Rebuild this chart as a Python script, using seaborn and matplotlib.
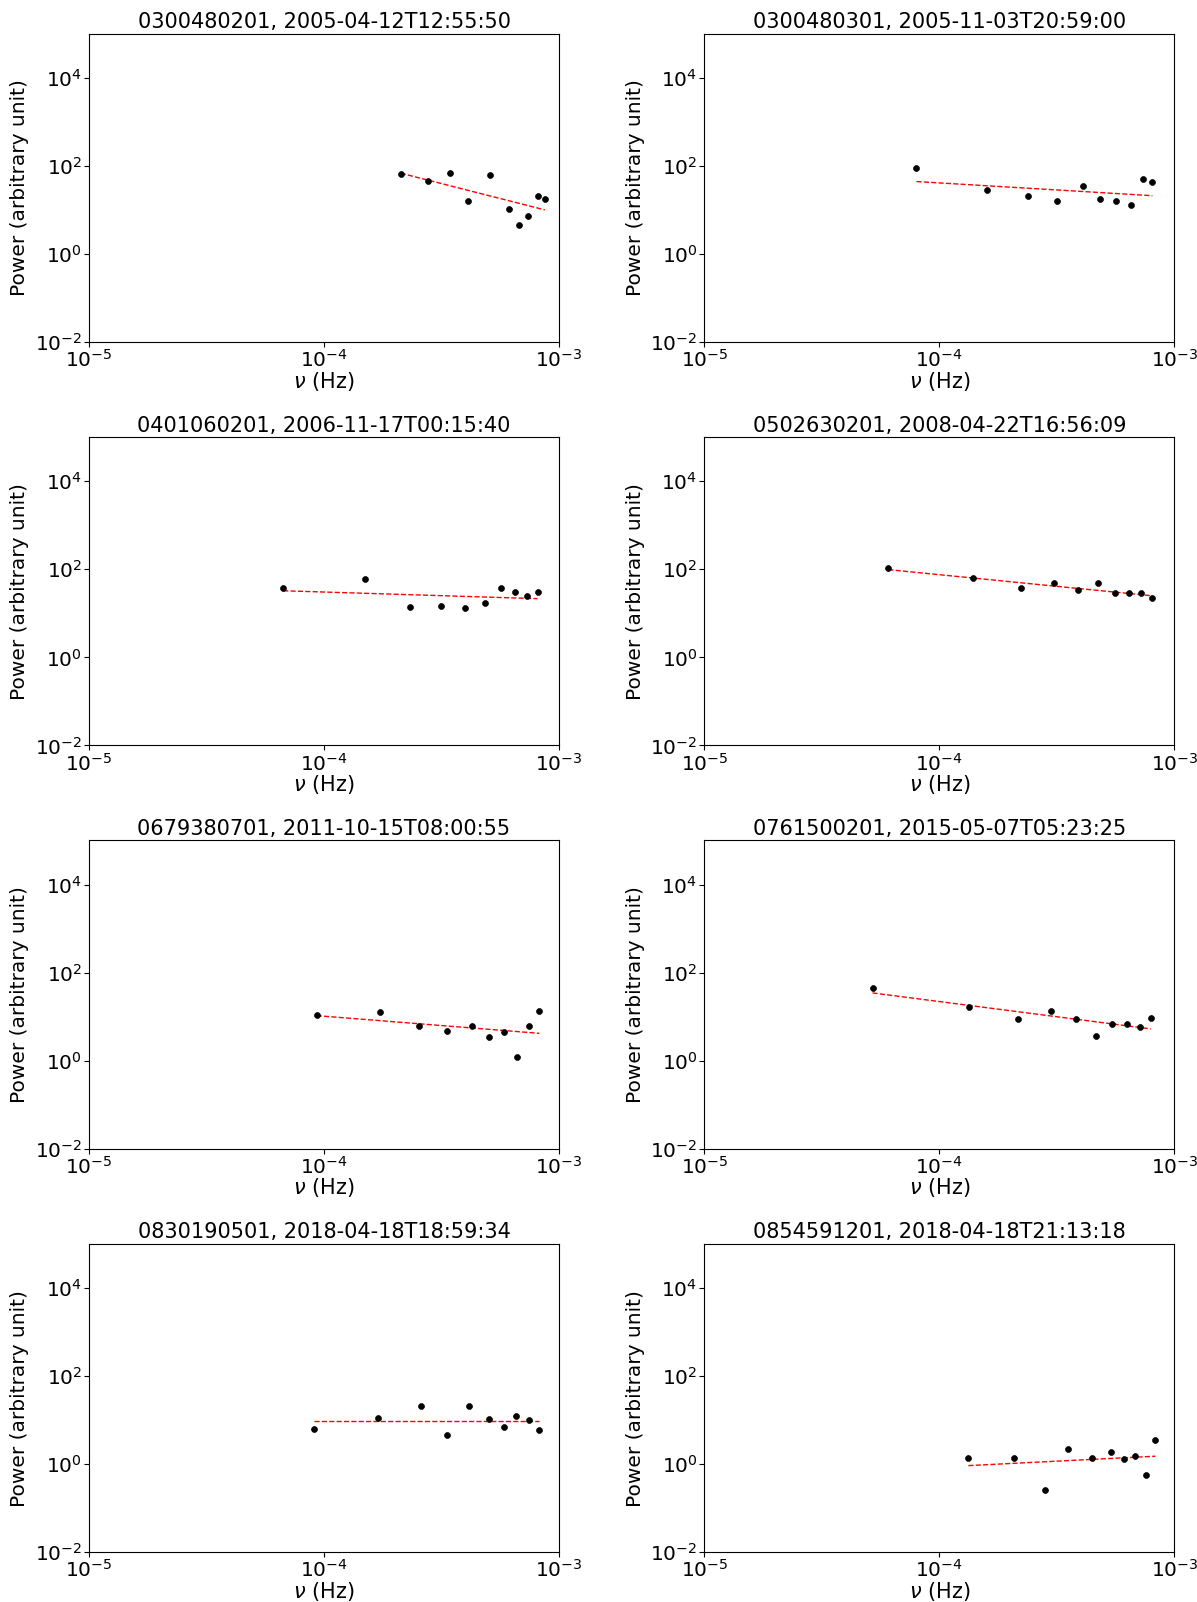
import numpy as np
import pandas as pd
import matplotlib
matplotlib.use("Agg")
import matplotlib.pyplot as plt
import seaborn as sns

# --- titres des observations ---
titles = [
    "0300480201, 2005-04-12T12:55:50",
    "0300480301, 2005-11-03T20:59:00",
    "0401060201, 2006-11-17T00:15:40",
    "0502630201, 2008-04-22T16:56:09",
    "0679380701, 2011-10-15T08:00:55",
    "0761500201, 2015-05-07T05:23:25",
    "0830190501, 2018-04-18T18:59:34",
    "0854591201, 2018-04-18T21:13:18",
]

# --- fréquences (Hz) ---
freq_1 = [2.12e-4, 2.77e-4, 3.44e-4, 4.11e-4, 5.1e-4, 6.1e-4, 6.78e-4, 7.4e-4, 8.1e-4, 8.7e-4]
freq_2 = [8.0e-5, 1.6e-4, 2.39e-4, 3.18e-4, 4.08e-4, 4.85e-4, 5.66e-4, 6.56e-4, 7.35e-4, 8.07e-4]
freq_3 = [6.7e-5, 1.5e-4, 2.33e-4, 3.15e-4, 3.99e-4, 4.84e-4, 5.68e-4, 6.47e-4, 7.33e-4, 8.1e-4]
freq_4 = [6.07e-5, 1.39e-4, 2.23e-4, 3.07e-4, 3.91e-4, 4.73e-4, 5.59e-4, 6.41e-4, 7.22e-4, 8.04e-4]
freq_5 = [9.3e-5, 1.73e-4, 2.54e-4, 3.33e-4, 4.26e-4, 5.05e-4, 5.85e-4, 6.65e-4, 7.45e-4, 8.24e-4]
freq_6 = [5.2e-5, 1.34e-4, 2.16e-4, 2.98e-4, 3.83e-4, 4.66e-4, 5.46e-4, 6.31e-4, 7.17e-4, 7.94e-4]
freq_7 = [9.06e-5, 1.69e-4, 2.58e-4, 3.35e-4, 4.14e-4, 5.02e-4, 5.81e-4, 6.59e-4, 7.48e-4, 8.24e-4]
freq_8 = [1.33e-4, 2.07e-4, 2.81e-4, 3.54e-4, 4.46e-4, 5.37e-4, 6.11e-4, 6.84e-4, 7.6e-4, 8.32e-4]

# --- puissances (unité arbitraire) ---
power_1 = [66, 45, 69, 15.5, 62, 10.5, 4.6, 7.4, 21, 17.4]
power_2 = [87, 29, 20.8, 15.5, 35, 17.8, 15.5, 12.9, 51, 43]
power_3 = [38, 60, 13.9, 14.9, 13, 17.5, 37, 30.6, 25, 31]
power_4 = [105, 63.6, 37, 49, 33, 49, 29, 29.5, 29.5, 22.7]
power_5 = [11, 12.6, 6.2, 4.8, 6.2, 3.5, 4.5, 1.25, 6.1, 13.6]
power_6 = [45, 16.4, 8.9, 13.3, 8.9, 3.6, 7.0, 6.8, 5.9, 9.3]
power_7 = [6.4, 11.3, 21.2, 4.6, 20.8, 10.9, 6.9, 12.3, 10.0, 6.0]
power_8 = [1.35, 1.35, 0.256, 2.19, 1.42, 1.87, 1.3, 1.57, 0.57, 3.5]

# --- ajustement loi de puissance : valeur au premier et au dernier point ---
fit_lo = [68, 44, 32.5, 98, 10.6, 34.7, 9.8, 0.93]
fit_hi = [10, 21, 21.5, 25, 4.2, 5.3, 9.8, 1.52]

freqs = [freq_1, freq_2, freq_3, freq_4, freq_5, freq_6, freq_7, freq_8]
powers = [power_1, power_2, power_3, power_4, power_5, power_6, power_7, power_8]

plt.rcParams["font.size"] = 14

fig, axes = plt.subplots(4, 2, figsize=(11.97, 16.02), dpi=100)
fig.subplots_adjust(left=0.0744, right=0.981, bottom=0.031, top=0.979,
                    wspace=0.309, hspace=0.308)

for i, ax in enumerate(axes.flat):
    df = pd.DataFrame({"freq": freqs[i], "power": powers[i]})
    df_fit = pd.DataFrame({"freq": [freqs[i][0], freqs[i][-1]],
                           "power": [fit_lo[i], fit_hi[i]]})
    sns.lineplot(data=df_fit, x="freq", y="power", ax=ax, color="red",
                 linestyle="--", linewidth=1)
    sns.scatterplot(data=df, x="freq", y="power", ax=ax, color="black",
                    s=18, edgecolor="black", linewidth=0.5, zorder=3)
    ax.set_xscale("log")
    ax.set_yscale("log")
    ax.set_xlim(1e-5, 1e-3)
    ax.set_ylim(1e-2, 1e5)
    ax.set_yticks([1e-2, 1e0, 1e2, 1e4])
    ax.set_xticks([1e-5, 1e-4, 1e-3])
    ax.minorticks_off()
    ax.tick_params(labelsize=14.5, pad=1.5)
    ax.set_title(titles[i], fontsize=15, pad=4)
    ax.set_xlabel(r"$\nu$ (Hz)", fontsize=15, labelpad=-1)
    ax.set_ylabel("Power (arbitrary unit)", fontsize=14.5, labelpad=4)

fig.savefig("out.png", dpi=100)
